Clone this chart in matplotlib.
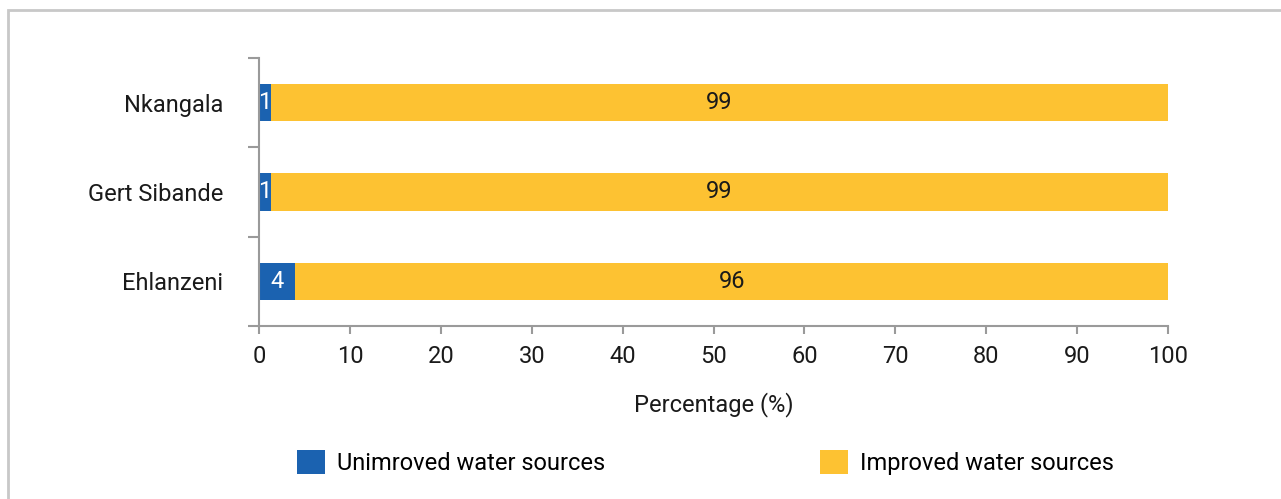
import matplotlib
matplotlib.use("Agg")
import matplotlib.pyplot as plt
from matplotlib.patches import Rectangle, Patch

plt.rcParams['font.family'] = ['Roboto', 'DejaVu Sans']

districts = ["Ehlanzeni", "Gert Sibande", "Nkangala"]
unimproved = [4, 1.3, 1.3]
improved = [96, 98.7, 98.7]
x_ticks = [0, 10, 20, 30, 40, 50, 60, 70, 80, 90, 100]

blue = "#1B62B0"
yellow = "#FDC232"
axis_gray = "#9a9a9a"

fig = plt.figure(figsize=(12.81, 4.99), dpi=100)
ax = fig.add_axes([0.2022, 0.3467, 0.7096, 0.5371])

pos = range(len(districts))
ax.barh(pos, unimproved, height=0.42, color=blue)
ax.barh(pos, improved, left=unimproved, height=0.42, color=yellow)

for i in pos:
    ax.text(unimproved[i] / 2, i, "%.0f" % unimproved[i], ha='center', va='center',
            color='white', fontsize=17)
    ax.text(unimproved[i] + improved[i] / 2, i, "%.0f" % improved[i], ha='center',
            va='center', color='#1a1a1a', fontsize=17)

ax.set_xlim(0, 100)
ax.set_ylim(-0.5, 2.5)
ax.set_xticks(x_ticks)
ax.set_yticks(list(pos))
ax.set_yticklabels(districts)
ax.set_yticks([-0.5, 0.5, 1.5, 2.5], minor=True)
ax.tick_params(axis='y', which='major', length=0, pad=26, labelsize=17, labelcolor='#1a1a1a')
ax.tick_params(axis='y', which='minor', length=8, width=1.5, color=axis_gray)
ax.tick_params(axis='x', length=6, width=1.5, color=axis_gray, labelsize=17,
               labelcolor='#1a1a1a', pad=8)
for s in ['top', 'right']:
    ax.spines[s].set_visible(False)
for s in ['left', 'bottom']:
    ax.spines[s].set_color(axis_gray)
    ax.spines[s].set_linewidth(1.5)
ax.set_xlabel("Percentage (%)", fontsize=17, color='#1a1a1a', labelpad=17)

handles = [Patch(facecolor=blue, label="Unimroved water sources"),
           Patch(facecolor=yellow, label="Improved water sources")]
fig.legend(handles=handles, loc='center', bbox_to_anchor=(0.5505, 0.074), ncol=2,
           frameon=False, fontsize=17, handlelength=1.2, handleheight=1.2,
           handletextpad=0.5, columnspacing=9.1)

fig.patches.append(Rectangle((8 / 1281, -0.05), 1.1, 1 - 10 / 499 + 0.05,
                             transform=fig.transFigure, fill=False,
                             edgecolor='#c8c8c8', linewidth=2))

fig.savefig("out.png", dpi=100)
